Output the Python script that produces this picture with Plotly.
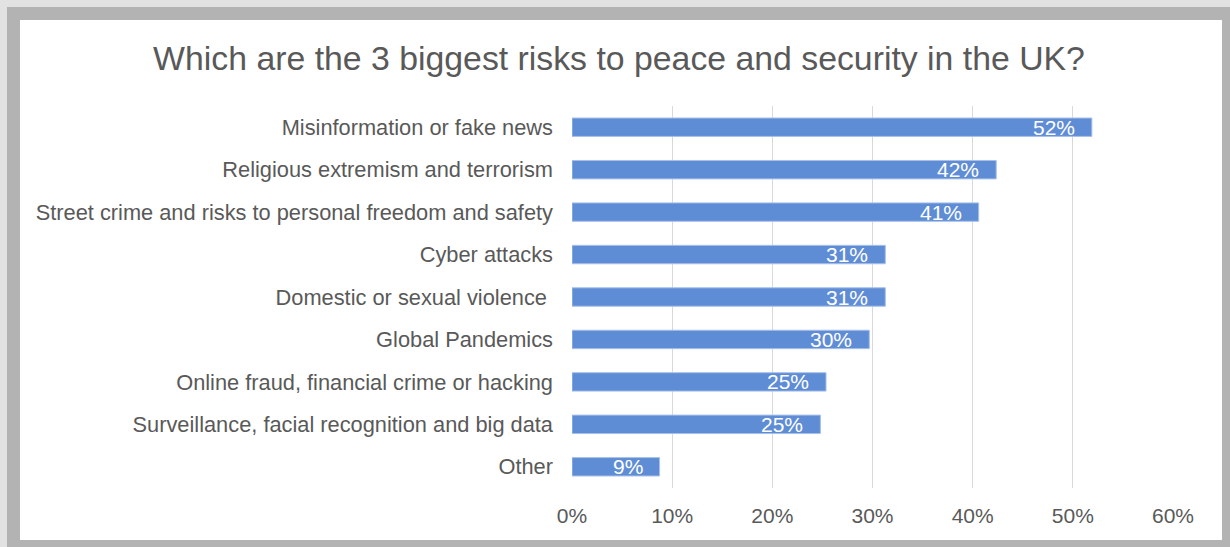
import plotly.graph_objects as go

# Survey responses: share of respondents naming each risk among their top 3
categories = [
    "Misinformation or fake news",
    "Religious extremism and terrorism",
    "Street crime and risks to personal freedom and safety",
    "Cyber attacks",
    "Domestic or sexual violence\u00a0",
    "Global Pandemics",
    "Online fraud, financial crime or hacking",
    "Surveillance, facial recognition and big data",
    "Other",
]
shares = [0.519, 0.4235, 0.406, 0.3128, 0.3128, 0.2968, 0.2536, 0.248, 0.0874]
x_ticks = [0, 0.1, 0.2, 0.3, 0.4, 0.5, 0.6]
x_tick_labels = ["0%", "10%", "20%", "30%", "40%", "50%", "60%"]

W, H = 1230, 547
ML, MR, MT, MB = 572, 57, 106, 59
PW, PH = W - ML - MR, H - MT - MB


def px_x(v):
    return (v - ML) / PW


def px_y(v):
    return (H - MB - v) / PH


TEXT = "#595959"
FONT = "Liberation Sans, Arial, sans-serif"

fig = go.Figure()
fig.add_trace(go.Bar(
    x=shares,
    y=categories,
    orientation="h",
    marker=dict(color="#5f8dd5", line=dict(color="#a8c0ea", width=1)),
    hoverinfo="skip",
))

# value labels sit inside the end of each bar
for cat, val in zip(categories, shares):
    fig.add_annotation(
        x=val, y=cat, xref="x", yref="y",
        text=f"{val:.0%}", showarrow=False,
        xanchor="right", yanchor="middle", xshift=-15,
        font=dict(family=FONT, size=21, color="#ffffff"),
    )

# card frame: outer grey band and white panel
fig.add_shape(type="rect", xref="paper", yref="paper", layer="below",
              x0=px_x(7), x1=px_x(W + 10), y0=px_y(H + 10), y1=px_y(7),
              line=dict(width=0), fillcolor="#b3b3b3")
fig.add_shape(type="rect", xref="paper", yref="paper", layer="below",
              x0=px_x(20), x1=px_x(1222), y0=px_y(540), y1=px_y(20),
              line=dict(width=0), fillcolor="#ffffff")

fig.update_layout(
    width=W, height=H,
    margin=dict(l=ML, r=MR, t=MT, b=MB, pad=0),
    paper_bgcolor="#e2e2e2",
    plot_bgcolor="rgba(0,0,0,0)",
    showlegend=False,
    bargap=0.566,
    title=dict(
        text="Which are the 3 biggest risks to peace and security in the UK?",
        x=619 / W, xref="container", xanchor="center",
        y=1 - 58 / H, yref="container", yanchor="middle",
        font=dict(family=FONT, size=33.8, color=TEXT),
    ),
    xaxis=dict(
        range=[0, 0.6], tickvals=x_ticks, ticktext=x_tick_labels,
        showgrid=True, gridcolor="#d9d9d9", gridwidth=1,
        zeroline=False, showline=False,
        tickfont=dict(family=FONT, size=21, color=TEXT),
        ticks="", ticklabelstandoff=13,
        fixedrange=True,
    ),
    yaxis=dict(
        autorange="reversed",
        showgrid=False, zeroline=False, showline=False,
        tickfont=dict(family=FONT, size=21.8, color=TEXT),
        ticks="", ticklabelstandoff=18,
        fixedrange=True,
    ),
)

fig.write_html("out.html")
